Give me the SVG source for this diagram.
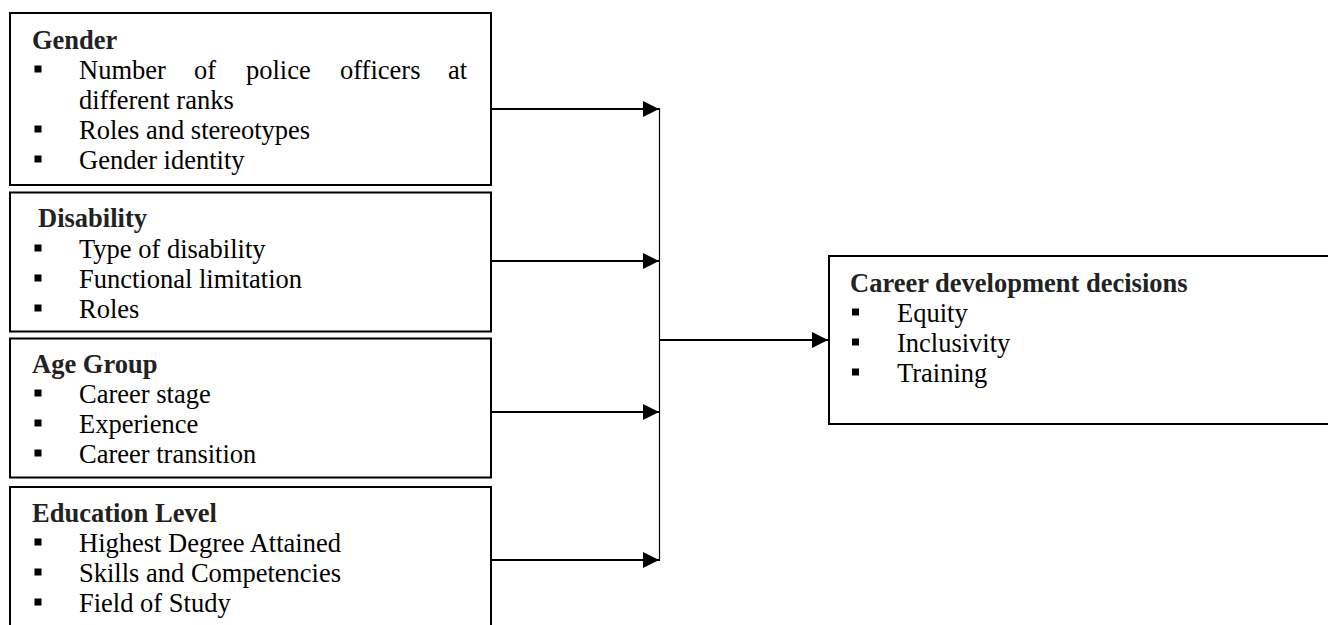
<svg xmlns="http://www.w3.org/2000/svg" width="1328" height="625" viewBox="0 0 1328 625">
<style>
.box{fill:#fff;stroke:#000;stroke-width:2}
.t{font-family:"Liberation Serif","Times New Roman",serif;font-size:26.5px;fill:#000}
.h{font-family:"Liberation Serif","Times New Roman",serif;font-size:26.5px;font-weight:bold;fill:#222}
.b{fill:#000}
.con{stroke:#000;stroke-width:2;fill:none}
.vl{stroke:#000;stroke-width:1.2;fill:none}
</style>
<defs>
<marker id="ah" markerUnits="userSpaceOnUse" markerWidth="17" markerHeight="16" refX="16" refY="8" orient="auto">
<path d="M0,0 L16,8 L0,16 Z" fill="#000"/>
</marker>
</defs>
<rect width="1328" height="625" fill="#fff"/>
<g id="gender">
<rect class="box" x="10" y="13" width="481" height="172"/>
<text class="h" x="32" y="49">Gender</text>
<rect class="b" x="34.5" y="65.5" width="7" height="7"/>
<text class="t" y="79"><tspan x="79">Number</tspan><tspan x="194">of</tspan><tspan x="246">police</tspan><tspan x="340">officers</tspan><tspan x="448">at</tspan></text>
<text class="t" x="79" y="109">different ranks</text>
<rect class="b" x="34.5" y="125.5" width="7" height="7"/>
<text class="t" x="79" y="139">Roles and stereotypes</text>
<rect class="b" x="34.5" y="155.5" width="7" height="7"/>
<text class="t" x="79" y="169">Gender identity</text>
</g>
<g id="disability">
<rect class="box" x="10" y="192.5" width="481" height="139"/>
<text class="h" x="38" y="227">Disability</text>
<rect class="b" x="34.5" y="244.5" width="7" height="7"/>
<text class="t" x="79" y="258">Type of disability</text>
<rect class="b" x="34.5" y="274.5" width="7" height="7"/>
<text class="t" x="79" y="288">Functional limitation</text>
<rect class="b" x="34.5" y="304.5" width="7" height="7"/>
<text class="t" x="79" y="318">Roles</text>
</g>
<g id="age-group">
<rect class="box" x="10" y="338.5" width="481" height="139"/>
<text class="h" x="32" y="373">Age Group</text>
<rect class="b" x="34.5" y="389.5" width="7" height="7"/>
<text class="t" x="79" y="403">Career stage</text>
<rect class="b" x="34.5" y="419.5" width="7" height="7"/>
<text class="t" x="79" y="433">Experience</text>
<rect class="b" x="34.5" y="449.5" width="7" height="7"/>
<text class="t" x="79" y="463">Career transition</text>
</g>
<g id="education-level">
<rect class="box" x="10" y="487" width="481" height="160"/>
<text class="h" x="32" y="522">Education Level</text>
<rect class="b" x="34.5" y="538.5" width="7" height="7"/>
<text class="t" x="79" y="552">Highest Degree Attained</text>
<rect class="b" x="34.5" y="568.5" width="7" height="7"/>
<text class="t" x="79" y="582">Skills and Competencies</text>
<rect class="b" x="34.5" y="598.5" width="7" height="7"/>
<text class="t" x="79" y="612">Field of Study</text>
</g>
<g id="career-development">
<rect class="box" x="829" y="256" width="510" height="168"/>
<text class="h" x="850" y="292">Career development decisions</text>
<rect class="b" x="852" y="308.5" width="7" height="7"/>
<text class="t" x="897" y="322">Equity</text>
<rect class="b" x="852" y="338.5" width="7" height="7"/>
<text class="t" x="897" y="352">Inclusivity</text>
<rect class="b" x="852" y="368.5" width="7" height="7"/>
<text class="t" x="897" y="382">Training</text>
</g>
<g id="connectors">
<line class="con" x1="492" y1="109" x2="659" y2="109" marker-end="url(#ah)"/>
<line class="con" x1="492" y1="261" x2="659" y2="261" marker-end="url(#ah)"/>
<line class="con" x1="492" y1="412" x2="659" y2="412" marker-end="url(#ah)"/>
<line class="con" x1="492" y1="560" x2="659" y2="560" marker-end="url(#ah)"/>
<line class="vl" x1="659.5" y1="108" x2="659.5" y2="561"/>
<line class="con" x1="660" y1="340" x2="828" y2="340" marker-end="url(#ah)"/>
</g>
</svg>
